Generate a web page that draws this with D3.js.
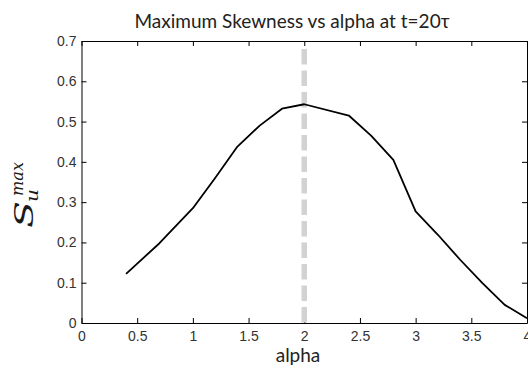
<!DOCTYPE html>
<html>
<head>
<meta charset="utf-8">
<script src="https://cdn.jsdelivr.net/npm/d3@7"></script>
<style>
    body { margin: 0; background: #fff; }
    svg { display: block; }
    .axis text { font-family: "Liberation Sans", Arial, sans-serif; fill: #333; }
    .axis path, .axis line { stroke: #000; }
</style>
</head>
<body>
<div id="chart"></div>
<script>

// Data
const alphaValues = [0.4, 0.7, 1.0, 1.2, 1.4, 1.6, 1.8, 2.0, 2.4, 2.6, 2.8, 3.0, 3.2, 3.4, 3.6, 3.8, 4.0];
const skewValues  = [0.122, 0.198, 0.285, 0.36, 0.438, 0.49, 0.532, 0.543, 0.515, 0.465, 0.405, 0.277, 0.219, 0.157, 0.099, 0.045, 0.012];
const xTicks = [0, 0.5, 1, 1.5, 2, 2.5, 3, 3.5, 4];
const yTicks = [0, 0.1, 0.2, 0.3, 0.4, 0.5, 0.6, 0.7];
const markerAlpha = 2;
const titleText = "Maximum Skewness vs alpha at t=20\u03C4";
const xLabel = "alpha";

let width = 528, height = 365;
let margin = {top: 41, right: 1, bottom: 42, left: 81.5};
let xwidth = width - margin.left - margin.right;
let yheight = height - margin.top - margin.bottom;

let svg = d3.select("#chart")
    .append("svg")
        .attr("width", width)
        .attr("height", height);

let g = svg.append("g")
    .attr("transform", "translate(" + margin.left + "," + margin.top + ")");

// Scales
let x = d3.scaleLinear().domain([0, 4]).range([0, xwidth]);
let y = d3.scaleLinear().domain([0, 0.7]).range([yheight, 0]);

let fmt = d => String(+d.toFixed(2));

// Bottom axis (ticks pointing in)
let xAxis = g.append("g")
    .attr("class", "x axis")
    .attr("transform", "translate(0," + yheight + ")")
    .call(d3.axisBottom(x).tickValues(xTicks).tickFormat(fmt)
        .tickSizeInner(-5).tickSizeOuter(0).tickPadding(8));
xAxis.selectAll("text").style("font-size", "14px");

// Left axis
let yAxis = g.append("g")
    .attr("class", "y axis")
    .call(d3.axisLeft(y).tickValues(yTicks).tickFormat(fmt)
        .tickSizeInner(-5).tickSizeOuter(0).tickPadding(5));
yAxis.selectAll("text").style("font-size", "14px");

// Top and right box axes, no labels
g.append("g")
    .attr("class", "axis")
    .call(d3.axisTop(x).tickValues(xTicks).tickFormat("")
        .tickSizeInner(-5).tickSizeOuter(0));
g.append("g")
    .attr("class", "axis")
    .attr("transform", "translate(" + xwidth + ",0)")
    .call(d3.axisRight(y).tickValues(yTicks).tickFormat("")
        .tickSizeInner(-5).tickSizeOuter(0));

// Dashed marker line at alpha = 2
g.append("line")
    .attr("x1", x(markerAlpha)).attr("x2", x(markerAlpha))
    .attr("y1", 8).attr("y2", yheight)
    .attr("stroke", "#d2d2d2")
    .attr("stroke-width", 5.5)
    .attr("stroke-dasharray", "15.5,6");

// The curve
let data = alphaValues.map((a, i) => ({alpha: a, skew: skewValues[i]}));
let valueline = d3.line()
    .x(d => x(d.alpha))
    .y(d => y(d.skew));
g.append("path")
    .datum(data)
    .attr("fill", "none")
    .attr("stroke", "#000")
    .attr("stroke-width", 1.8)
    .attr("stroke-linejoin", "round")
    .attr("d", valueline);

// Title
svg.append("text")
    .attr("x", 292).attr("y", 28)
    .attr("text-anchor", "middle")
    .style("font-family", "Lato, 'Open Sans', sans-serif")
    .style("font-size", "19px")
    .style("fill", "#222")
    .text(titleText);

// X label
svg.append("text")
    .attr("x", 298).attr("y", 362)
    .attr("text-anchor", "middle")
    .style("font-family", "Lato, 'Open Sans', sans-serif")
    .style("font-size", "19px")
    .style("fill", "#222")
    .text(xLabel);

// Y label: S_u^max, rotated. Inside the group, x runs up the page and y runs right.
let ylab = svg.append("g")
    .attr("transform", "rotate(-90)")
    .style("font-family", "'DejaVu Serif', 'Liberation Serif', serif")
    .style("font-style", "italic")
    .style("fill", "#1a1a1a");
ylab.append("text")
    .attr("x", -228).attr("y", 33)
    .attr("textLength", 27).attr("lengthAdjust", "spacingAndGlyphs")
    .style("font-size", "26px")
    .text("S");
ylab.append("text")
    .attr("x", -196).attr("y", 23)
    .attr("textLength", 34).attr("lengthAdjust", "spacingAndGlyphs")
    .style("font-size", "17px")
    .text("max");
ylab.append("text")
    .attr("x", -202).attr("y", 38)
    .attr("textLength", 13).attr("lengthAdjust", "spacingAndGlyphs")
    .style("font-size", "17px")
    .text("u");

</script>
</body>
</html>
